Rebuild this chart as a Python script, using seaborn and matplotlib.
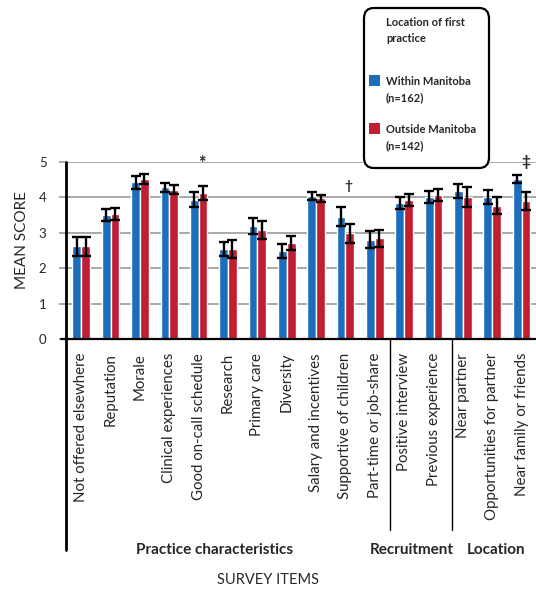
import matplotlib
matplotlib.use("Agg")
import matplotlib.pyplot as plt
from matplotlib.patches import FancyBboxPatch, Rectangle
import seaborn as sns
import pandas as pd
import numpy as np

categories = ["Not offered elsewhere", "Reputation", "Morale", "Clinical experiences",
              "Good on-call schedule", "Research", "Primary care", "Diversity",
              "Salary and incentives", "Supportive of children", "Part-time or job-share",
              "Positive interview", "Previous experience", "Near partner",
              "Opportunities for partner", "Near family or friends"]
within = [2.62, 3.50, 4.43, 4.28, 3.93, 2.55, 3.20, 2.49, 4.04, 3.45, 2.81, 3.85, 4.00, 4.19, 4.00, 4.52]
outside = [2.62, 3.53, 4.52, 4.22, 4.13, 2.55, 3.07, 2.71, 3.98, 2.99, 2.84, 3.93, 4.07, 4.01, 3.77, 3.90]
within_err = [0.27, 0.17, 0.18, 0.12, 0.21, 0.20, 0.23, 0.20, 0.10, 0.27, 0.23, 0.17, 0.17, 0.20, 0.20, 0.12]
outside_err = [0.27, 0.17, 0.15, 0.12, 0.20, 0.25, 0.25, 0.19, 0.10, 0.27, 0.25, 0.17, 0.17, 0.27, 0.24, 0.25]
series = ["Within Manitoba\n(n=162)", "Outside Manitoba\n(n=142)"]
legend_title = "Location of first\npractice"
groups = ["Practice characteristics", "Recruitment", "Location"]
# (symbol, category index, x offset in category units, y value, size)
markers = [("*", 4, 0.12, 4.97, 13), ("\u2020", 9, 0.1, 4.33, 10), ("\u2021", 15, 0.15, 5.0, 11)]

colors = ["#1c6ebd", "#c01f33"]

sns.set_style("white")
plt.rcParams["font.family"] = ["Lato", "DejaVu Sans"]

df = pd.DataFrame({
    "item": categories * 2,
    "score": within + outside,
    "group": [series[0]] * len(categories) + [series[1]] * len(categories),
})

W, H = 536, 590
fig = plt.figure(figsize=(W / 100, H / 100), dpi=100)
ax = fig.add_axes([66 / W, 1 - 339 / H, 1 - 66 / W, (339 - 162) / H])

sns.barplot(data=df, x="item", y="score", hue="group", palette=colors,
            width=0.6, gap=0, ax=ax, legend=False, saturation=1)

bar_containers = list(ax.containers)
errs = [within_err, outside_err]
for ci, cont in enumerate(bar_containers):
    for bi, bar in enumerate(cont):
        xc = bar.get_x() + bar.get_width() / 2
        ax.errorbar(xc, bar.get_height(), yerr=errs[ci][bi], color="black",
                    capsize=3.4, elinewidth=1.7, capthick=1.7, zorder=5)

ax.set_ylim(0, 5)
ax.set_xlim(-0.52, 15.49)
ax.set_yticks([0, 1, 2, 3, 4, 5])
for yv in [1, 2, 3, 4, 5]:
    ax.axhline(yv, color="#9a9a9a", lw=1.2, zorder=0)
ax.tick_params(axis="y", length=5, width=1.2, color="#9a9a9a", labelsize=9.5, pad=9, left=True)
ax.tick_params(axis="x", length=0, labelsize=10.8, pad=10)
ax.set_xticks(range(len(categories)))
ax.set_xticklabels(categories, rotation=90)
for sp in ["top", "right"]:
    ax.spines[sp].set_visible(False)
ax.spines["bottom"].set_linewidth(1.6)
ax.spines["bottom"].set_color("black")
ax.spines["left"].set_visible(False)
ax.set_xlabel("")
ax.set_ylabel("")
fig.text(22 / W, 1 - 240 / H, "MEAN SCORE", rotation=90, ha="center", va="center", fontsize=11)

ax.plot([-0.52, -0.52], [5, -5.95], color="black", lw=2, clip_on=False, zorder=6)
ax.plot([-0.7, -0.52], [0, 0], color="black", lw=1.6, clip_on=False)
for xs in [10.5, 12.62]:
    ax.plot([xs, xs], [0, -5.4], color="black", lw=1.0, clip_on=False)

for label, xc in zip(groups, [4.55, 11.27, 14.13]):
    ax.text(xc, -5.95, label, ha="center", va="center", fontsize=11,
            fontweight="bold", clip_on=False)
fig.text(268 / W, 1 - 580 / H, "SURVEY ITEMS", ha="center", va="center", fontsize=10.5)

for sym, idx, dx, yv, fs in markers:
    ax.text(idx + dx, yv, sym, ha="center", va="center", fontsize=fs,
            fontweight="bold", clip_on=False, zorder=7)

# legend box
fig.patches.append(FancyBboxPatch((364 / W, 1 - 168 / H), 125 / W, 160 / H,
                                  boxstyle="round,pad=0,rounding_size=0.018",
                                  transform=fig.transFigure, facecolor="white",
                                  edgecolor="black", linewidth=1.6, zorder=10))
fig.text(386 / W, 1 - 17 / H, legend_title, ha="left", va="top", fontsize=8,
         fontweight="bold", linespacing=1.55, zorder=11)
for i, (lab, col) in enumerate(zip(series, colors)):
    ytop = 75 + i * 48
    fig.patches.append(Rectangle((369 / W, 1 - (ytop + 11) / H), 11 / W, 11 / H,
                                 transform=fig.transFigure, facecolor=col,
                                 edgecolor="none", zorder=11))
    fig.text(386 / W, 1 - (ytop + 1) / H, lab, ha="left", va="top", fontsize=8,
             fontweight="bold", linespacing=1.55, zorder=11)

fig.savefig("out.png", dpi=100)
